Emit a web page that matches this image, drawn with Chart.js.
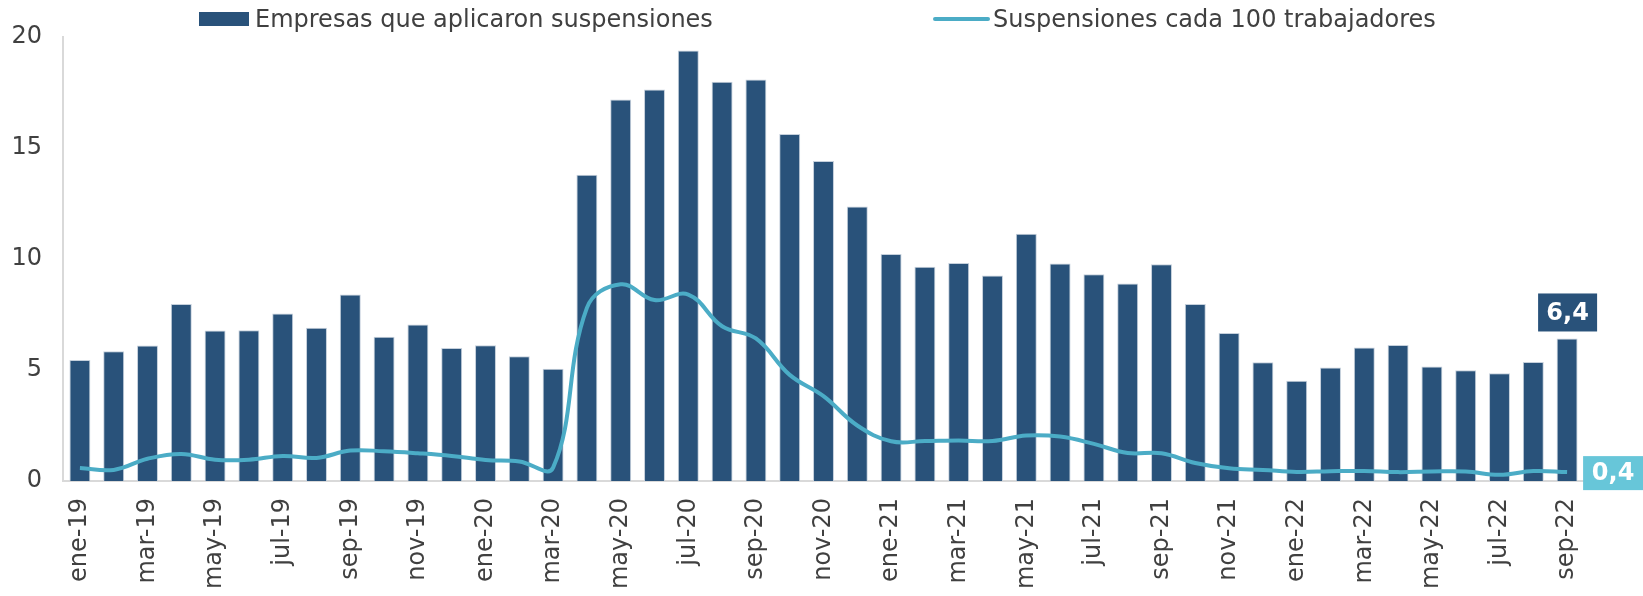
<!DOCTYPE html>
<html lang="es">
<head>
<meta charset="utf-8">
<title>Suspensiones</title>
<script src="https://cdn.jsdelivr.net/npm/chart.js@4.4.1/dist/chart.umd.min.js"></script>
<style>
  html, body { margin:0; padding:0; background:#fff; }
  #wrap { position:relative; width:1643px; height:596px; font-family:"DejaVu Sans", Verdana, sans-serif; color:#404040; }
  #wrap canvas { position:absolute; left:0; top:0; }
  .lg { position:absolute; top:0; height:38px; display:flex; align-items:center; font-size:24px; white-space:nowrap; }
  .lg .box { width:50px; height:14px; background:#29527a; margin-right:6px; }
  .lg .ln { width:57px; height:4px; border-radius:2px; background:#4bacc6; margin-right:3px; }
</style>
</head>
<body>
<div id="wrap">
  <canvas id="chart" width="1643" height="596"></canvas>
  <div class="lg" style="left:199px"><span class="box"></span>Empresas que aplicaron suspensiones</div>
  <div class="lg" style="left:933px"><span class="ln"></span>Suspensiones cada 100 trabajadores</div>
</div>
<script>
/* ====== DATA ====== */
const months = [
  "ene-19","feb-19","mar-19","abr-19","may-19","jun-19","jul-19","ago-19","sep-19","oct-19","nov-19","dic-19",
  "ene-20","feb-20","mar-20","abr-20","may-20","jun-20","jul-20","ago-20","sep-20","oct-20","nov-20","dic-20",
  "ene-21","feb-21","mar-21","abr-21","may-21","jun-21","jul-21","ago-21","sep-21","oct-21","nov-21","dic-21",
  "ene-22","feb-22","mar-22","abr-22","may-22","jun-22","jul-22","ago-22","sep-22"
];
const empresas = [
  5.45, 5.85, 6.1, 7.97, 6.78, 6.79, 7.55, 6.9, 8.4, 6.5, 7.05, 5.99,
  6.12, 5.62, 5.06, 13.79, 17.18, 17.63, 19.39, 17.98, 18.08, 15.63, 14.41, 12.36,
  10.23, 9.65, 9.82, 9.26, 11.14, 9.8, 9.31, 8.9, 9.76, 7.97, 6.67, 5.35,
  4.52, 5.11, 6.01, 6.13, 5.16, 4.99, 4.85, 5.36, 6.42
];
const suspensiones = [
  0.59, 0.5, 1.0, 1.22, 0.96, 0.96, 1.13, 1.04, 1.37, 1.34, 1.25, 1.13,
  0.95, 0.88, 0.6, 7.8, 8.86, 8.15, 8.4, 6.97, 6.42, 4.78, 3.82, 2.5,
  1.79, 1.8, 1.82, 1.8, 2.05, 2.0, 1.67, 1.26, 1.25, 0.81, 0.57, 0.5,
  0.41, 0.44, 0.45, 0.4, 0.43, 0.43, 0.28, 0.45, 0.4
];
const yTicks = [0, 5, 10, 15, 20];
const lastBarLabel = "6,4";
const lastLineLabel = "0,4";

/* ====== COLORS ====== */
const BAR_COLOR = "#29527a";
const LINE_COLOR = "#4bacc6";
const LINE_TAG = "#67c6d9";
const TEXT = "#404040";
const AXIS = "#d9d9d9";
const FONT = '"DejaVu Sans", Verdana, sans-serif';

/* ====== END-VALUE TAGS ====== */
function tag(ctx, text, left, top, w, h, bg){
  ctx.save();
  ctx.fillStyle = bg;
  ctx.fillRect(left, top, w, h);
  ctx.fillStyle = "#fff";
  ctx.font = "bold 24px " + FONT;
  ctx.textAlign = "center";
  ctx.textBaseline = "middle";
  ctx.fillText(text, left + w/2, top + h/2 + 1);
  ctx.restore();
}
const endTags = {
  id: "endTags",
  afterDatasetsDraw(chart){
    const ctx = chart.ctx;
    const bars = chart.getDatasetMeta(0).data;
    const b = bars[bars.length-1];
    tag(ctx, lastBarLabel, b.x - 29, b.y - 45, 59, 38, BAR_COLOR);
    const pts = chart.getDatasetMeta(1).data;
    const p = pts[pts.length-1];
    tag(ctx, lastLineLabel, p.x + 16, p.y - 16, 60, 34, LINE_TAG);
  }
};

/* ====== CHART ====== */
new Chart(document.getElementById("chart"), {
  data: {
    labels: months,
    datasets: [
      { type: "bar", label: "Empresas que aplicaron suspensiones", data: empresas,
        backgroundColor: BAR_COLOR, borderColor: "#c5d0dc", borderWidth: 1,
        barPercentage: 0.62, categoryPercentage: 1, order: 1 },
      { type: "line", label: "Suspensiones cada 100 trabajadores", data: suspensiones,
        borderColor: LINE_COLOR, borderWidth: 4, pointRadius: 0, tension: 0.4,
        fill: false, order: 0 }
    ]
  },
  options: {
    responsive: false,
    animation: false,
    layout: { padding: { left: 0, right: 59, top: 37, bottom: 0 } },
    plugins: { legend: { display: false }, tooltip: { enabled: false } },
    scales: {
      x: {
        grid: { display: false, drawTicks: false },
        border: { display: true, color: AXIS, width: 2 },
        ticks: {
          autoSkip: false, minRotation: 90, maxRotation: 90, padding: 17,
          color: TEXT, font: { family: FONT, size: 24 },
          callback: (v, i) => i % 2 === 0 ? months[i] : ""
        },
        afterFit: s => { s.height = 115; }
      },
      y: {
        min: 0, max: 20,
        afterBuildTicks: s => { s.ticks = yTicks.map(v => ({ value: v })); },
        grid: { display: false, drawTicks: false },
        border: { display: true, color: AXIS, width: 2 },
        ticks: { padding: 21, color: TEXT, font: { family: FONT, size: 24 } },
        afterFit: s => { s.width = 63; }
      }
    }
  },
  plugins: [endTags]
});
</script>
</body>
</html>
